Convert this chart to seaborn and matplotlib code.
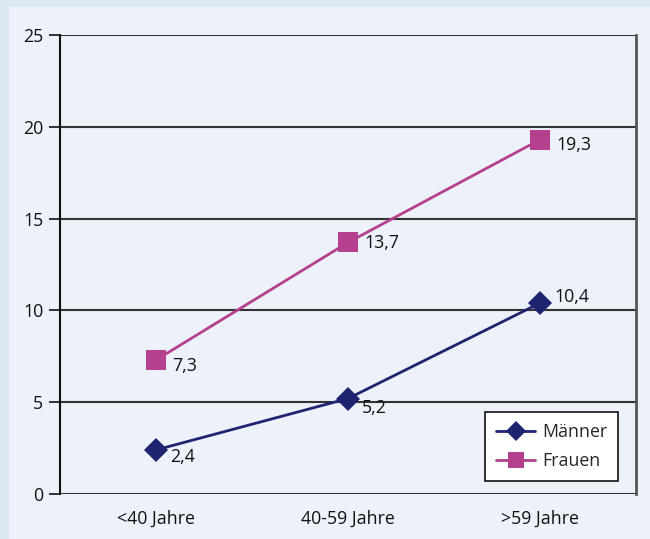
import matplotlib
matplotlib.use("Agg")
import matplotlib.pyplot as plt
import seaborn as sns
import pandas as pd
from matplotlib.patches import Rectangle

categories = ["<40 Jahre", "40-59 Jahre", ">59 Jahre"]
maenner = [2.4, 5.2, 10.4]
frauen = [7.3, 13.7, 19.3]
series_names = ["Männer", "Frauen"]
label_texts_m = ["2,4", "5,2", "10,4"]
label_texts_f = ["7,3", "13,7", "19,3"]
y_ticks = [0, 5, 10, 15, 20, 25]

sns.set_theme(style="white")
plt.rcParams["font.family"] = ["Open Sans", "DejaVu Sans"]

df = pd.DataFrame({
    "Gruppe": categories * 2,
    "x": list(range(len(categories))) * 2,
    "Wert": maenner + frauen,
    "Serie": [series_names[0]] * 3 + [series_names[1]] * 3,
})

colors = {"Männer": "#1f2470", "Frauen": "#b5408e"}
markers = {"Männer": "D", "Frauen": "s"}
FS = 12.8

fig = plt.figure(figsize=(6.5, 5.39), dpi=100)
fig.patch.set_facecolor("#dde8f2")
fig.add_artist(Rectangle((9 / 650, 0), 1, 1 - 7 / 539, transform=fig.transFigure,
                         facecolor="#edf2fa", edgecolor="none", zorder=-10))
ax = fig.add_axes([60 / 650, 1 - 494 / 539, 576 / 650, 459 / 539])
ax.set_zorder(1)
ax.set_facecolor("#edf2fa")

for yv in y_ticks:
    ax.axhline(yv, color="#333333", lw=1.5, zorder=1)

sns.lineplot(data=df, x="x", y="Wert", hue="Serie", style="Serie",
             palette=colors, markers=markers, dashes=False, ax=ax,
             lw=2, markeredgewidth=0, zorder=3, legend=True)
for line in ax.get_lines():
    if line.get_marker() == "s":
        line.set_markersize(14)
    elif line.get_marker() == "D":
        line.set_markersize(12.5)

off_m = [(14, -7), (14, -9), (14, 6)]
off_f = [(16, -6), (16, -1), (16, -5)]
for i in range(3):
    ax.annotate(label_texts_m[i], (i, maenner[i]), xytext=off_m[i], textcoords="offset pixels",
                ha="left", va="center", fontsize=FS, color="#111111", zorder=4)
    ax.annotate(label_texts_f[i], (i, frauen[i]), xytext=off_f[i], textcoords="offset pixels",
                ha="left", va="center", fontsize=FS, color="#111111", zorder=4)

ax.set_xlim(-0.5, 2.5)
ax.set_ylim(0, 25)
ax.set_yticks(y_ticks)
ax.set_yticklabels([str(v) for v in y_ticks])
ax.set_xticks([0, 1, 2])
ax.set_xticklabels(categories)
ax.set_xticks([-0.5, 0.5, 1.5, 2.5], minor=True)
ax.tick_params(axis="x", which="major", length=0, pad=11.5, labelsize=FS, colors="#111111")
ax.tick_params(axis="x", which="minor", length=8, width=1.2, color="#111111", direction="out")
ax.tick_params(axis="y", length=8, width=1.2, color="#111111", direction="out", pad=4,
               labelsize=FS, labelcolor="#111111", left=True)
ax.set_xlabel("")
ax.set_ylabel("")

for s in ["top", "bottom"]:
    ax.spines[s].set_visible(False)
ax.spines["left"].set_color("#111111")
ax.spines["left"].set_linewidth(1.5)
ax.spines["right"].set_color("#555555")
ax.spines["right"].set_linewidth(2)

leg = ax.legend(title=None, loc="lower right", bbox_to_anchor=(0.969, 0.028),
                fontsize=FS, frameon=True, fancybox=False, edgecolor="#111111",
                facecolor="white", framealpha=1, handlelength=2.2, handletextpad=0.4,
                borderpad=0.6, labelspacing=0.65, borderaxespad=0)
leg.get_frame().set_linewidth(1.2)
for h in leg.legend_handles:
    h.set_markersize(10 if h.get_marker() == "D" else 11)

fig.savefig("out.png", dpi=100, facecolor=fig.get_facecolor())
